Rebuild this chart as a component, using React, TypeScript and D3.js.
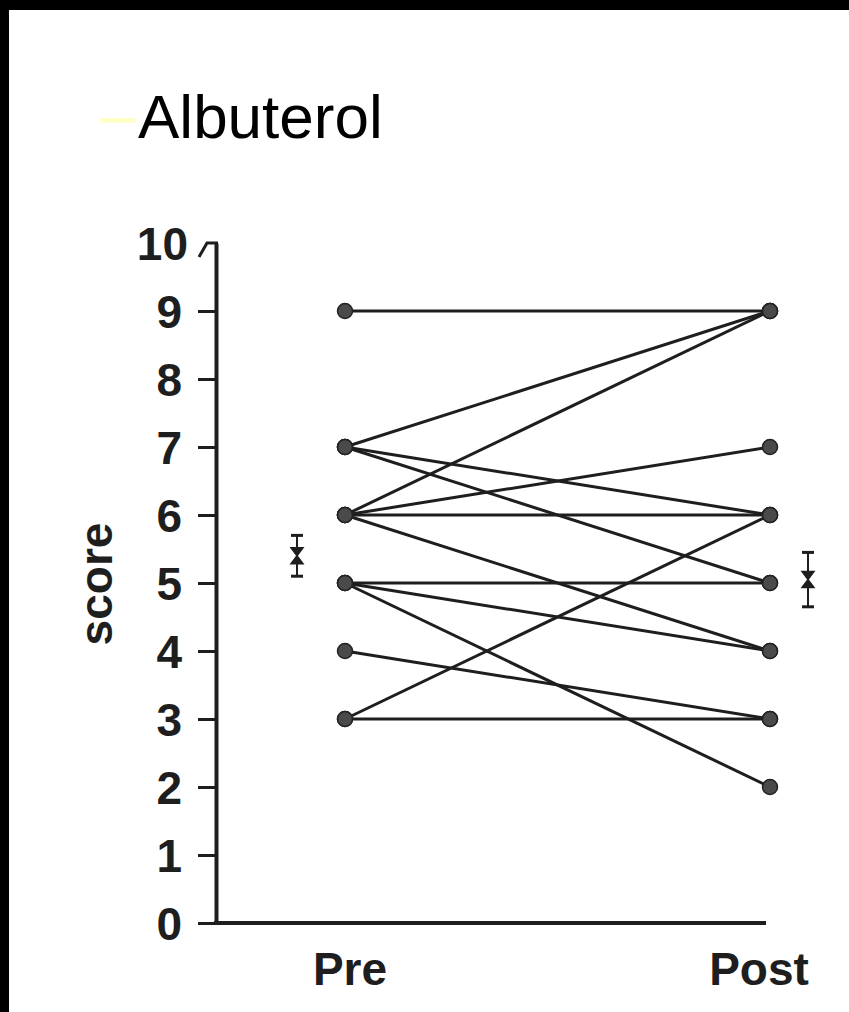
import React, { useRef, useEffect } from 'react';
import * as d3 from 'd3';

// paired scores per subject
const phases = ['Pre', 'Post'];
const preScores = [9, 7, 6, 7, 7, 6, 6, 6, 5, 5, 5, 4, 3, 3];
const postScores = [9, 9, 9, 6, 5, 7, 6, 4, 5, 4, 2, 3, 6, 3];
const meanScores = [5.4, 5.05];
const seScores = [0.3, 0.4];
const yTicks = [0, 1, 2, 3, 4, 5, 6, 7, 8, 9, 10];

const W = 849;
const H = 1012;

const App = () => {
  const svgRef = useRef<SVGSVGElement>(null);

  useEffect(() => {
    const svg = d3.select(svgRef.current);
    svg.selectAll('*').remove();

    const ink = '#1e1e1e';
    const font = 'Liberation Sans, Arial, sans-serif';

    // white page with the black frame at top and left
    svg.append('rect').attr('width', W).attr('height', H).attr('fill', '#fff');
    svg.append('rect').attr('width', W).attr('height', 10).attr('fill', '#000');
    svg.append('rect').attr('width', 9).attr('height', H).attr('fill', '#000');

    // title
    svg.append('rect').attr('x', 100).attr('y', 118).attr('width', 36).attr('height', 5).attr('fill', '#ffffc8');
    svg
      .append('text')
      .attr('x', 138)
      .attr('y', 138)
      .attr('font-family', font)
      .attr('font-size', 62)
      .attr('fill', '#000')
      .text('Albuterol');

    const axisX = 216;
    const y = d3.scaleLinear().domain([0, 10]).range([923, 243]);
    const x = d3.scalePoint<string>().domain(phases).range([345, 770]);

    // y axis
    const yAxis = svg
      .append('g')
      .attr('transform', `translate(${axisX},0)`)
      .call(
        d3
          .axisLeft(y)
          .tickValues(yTicks.filter(t => t < 10))
          .tickSize(18)
          .tickSizeOuter(0)
          .tickPadding(16)
          .tickFormat(d3.format('d'))
      );
    yAxis.select('.domain').attr('stroke', ink).attr('stroke-width', 4);
    yAxis.selectAll('.tick line').attr('stroke', ink).attr('stroke-width', 3);
    yAxis
      .selectAll('.tick text')
      .attr('font-family', font)
      .attr('font-size', 46)
      .attr('font-weight', 'bold')
      .attr('fill', ink)
      .attr('dy', '0.36em');

    // top tick with its little hook, label 10
    const top = y(10);
    svg
      .append('path')
      .attr('d', `M${axisX + 2},${top} H${axisX - 9} L${axisX - 17},${top + 14}`)
      .attr('fill', 'none')
      .attr('stroke', ink)
      .attr('stroke-width', 3);
    svg
      .append('text')
      .attr('x', axisX - 28)
      .attr('y', top)
      .attr('dy', '0.36em')
      .attr('text-anchor', 'end')
      .attr('font-family', font)
      .attr('font-size', 46)
      .attr('font-weight', 'bold')
      .attr('fill', ink)
      .text('10');

    // x axis line
    svg
      .append('line')
      .attr('x1', axisX - 2)
      .attr('x2', (x('Post') as number) - 4)
      .attr('y1', y(0))
      .attr('y2', y(0))
      .attr('stroke', ink)
      .attr('stroke-width', 4);

    // y label
    svg
      .append('text')
      .attr('transform', `translate(112,${(y(0) + y(10)) / 2 + 1}) rotate(-90)`)
      .attr('text-anchor', 'middle')
      .attr('font-family', font)
      .attr('font-size', 46)
      .attr('font-weight', 'bold')
      .attr('fill', ink)
      .text('score');

    // phase labels
    const labelShift = [5, -11];
    phases.forEach((p, i) => {
      svg
        .append('text')
        .attr('x', (x(p) as number) + labelShift[i])
        .attr('y', 985)
        .attr('text-anchor', 'middle')
        .attr('font-family', font)
        .attr('font-size', 46)
        .attr('font-weight', 'bold')
        .attr('fill', ink)
        .text(p);
    });

    // subject lines
    const pairs = preScores.map((v, i) => [v, postScores[i]]);
    svg
      .selectAll('.pair')
      .data(pairs)
      .enter()
      .append('line')
      .attr('class', 'pair')
      .attr('x1', x('Pre') as number)
      .attr('x2', x('Post') as number)
      .attr('y1', d => y(d[0]))
      .attr('y2', d => y(d[1]))
      .attr('stroke', ink)
      .attr('stroke-width', 3);

    // dots
    const dots = [
      ...preScores.map(v => ({ p: 'Pre', v })),
      ...postScores.map(v => ({ p: 'Post', v })),
    ];
    svg
      .selectAll('.dot')
      .data(dots)
      .enter()
      .append('circle')
      .attr('class', 'dot')
      .attr('cx', d => x(d.p) as number)
      .attr('cy', d => y(d.v))
      .attr('r', 7.5)
      .attr('fill', '#4a4a4a')
      .attr('stroke', '#222')
      .attr('stroke-width', 1.5);

    // mean +/- SE markers
    const markerShift = [-48, 38];
    phases.forEach((p, i) => {
      const cx = (x(p) as number) + markerShift[i];
      const m = y(meanScores[i]);
      const hi = y(meanScores[i] + seScores[i]);
      const lo = y(meanScores[i] - seScores[i]);
      const g = svg.append('g').attr('stroke', ink).attr('fill', ink);
      g.append('line').attr('x1', cx).attr('x2', cx).attr('y1', hi).attr('y2', lo).attr('stroke-width', 2);
      g.append('line').attr('x1', cx - 6).attr('x2', cx + 6).attr('y1', hi).attr('y2', hi).attr('stroke-width', 3);
      g.append('line').attr('x1', cx - 6).attr('x2', cx + 6).attr('y1', lo).attr('y2', lo).attr('stroke-width', 3);
      g.append('path')
        .attr('d', `M${cx - 6},${m - 8} L${cx + 6},${m - 8} L${cx - 6},${m + 8} L${cx + 6},${m + 8} Z`)
        .attr('stroke-width', 1.5);
    });
  }, []);

  return (
    <svg
      ref={svgRef}
      width={W}
      height={H}
      style={{ position: 'absolute', left: 0, top: 0, display: 'block' }}
    />
  );
};

export default App;
